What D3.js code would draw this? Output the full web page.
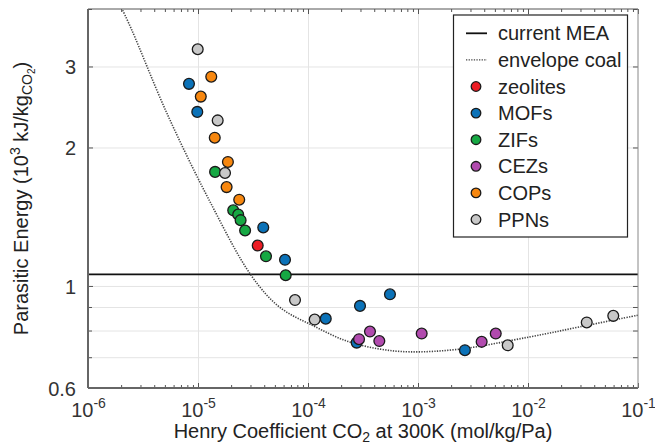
<!DOCTYPE html>
<html>
<head>
<meta charset="utf-8">
<script src="https://cdn.jsdelivr.net/npm/d3@7"></script>
<style>
  html, body { margin: 0; padding: 0; background: #fff; }
  svg { display: block; font-family: "Liberation Sans", Arial, Helvetica, sans-serif; }
</style>
</head>
<body>
<svg id="chart" width="655" height="447"></svg>
<script>
// ---------------- data ----------------
const categories = ["zeolites", "MOFs", "ZIFs", "CEZs", "COPs", "PPNs"];

const zeolitesH = [3.49e-5];
const zeolitesE = [1.224];

const mofsH = [8.28e-6, 9.85e-6, 3.92e-5, 6.18e-5, 1.45e-4, 2.97e-4, 5.56e-4, 2.77e-4, 2.67e-3];
const mofsE = [2.75, 2.39, 1.34, 1.14, 0.849, 0.905, 0.959, 0.753, 0.725];

const zifsH = [1.43e-5, 2.09e-5, 2.32e-5, 2.44e-5, 2.68e-5, 4.15e-5, 6.27e-5];
const zifsE = [1.77, 1.46, 1.43, 1.39, 1.32, 1.16, 1.055];

const cezsH = [2.91e-4, 3.66e-4, 4.45e-4, 1.08e-3, 3.79e-3, 5.09e-3];
const cezsE = [0.766, 0.796, 0.759, 0.788, 0.756, 0.788];

const copsH = [1.32e-5, 1.06e-5, 1.42e-5, 1.87e-5, 1.82e-5, 2.37e-5];
const copsE = [2.85, 2.58, 2.10, 1.86, 1.64, 1.54];

const ppnsH = [9.94e-6, 1.51e-5, 1.76e-5, 7.62e-5, 1.15e-4, 6.54e-3, 3.42e-2, 5.96e-2];
const ppnsE = [3.27, 2.29, 1.76, 0.932, 0.845, 0.743, 0.833, 0.861];

const envelopeH = [2.02e-6, 2.49e-6, 5.19e-6, 1.24e-5, 3.08e-5, 5.56e-5, 1.12e-4, 2.25e-4, 4.52e-4, 8.46e-4, 2.41e-3, 1.04e-2, 2.97e-2, 1.0e-1];
const envelopeE = [4.02, 3.61, 2.38, 1.55, 1.05, 0.898, 0.819, 0.759, 0.729, 0.719, 0.729, 0.775, 0.815, 0.864];

const meaEnergy = 1.06;

const xTickValues = [1e-6, 1e-5, 1e-4, 1e-3, 1e-2, 1e-1];
const xTickExponents = ["-6", "-5", "-4", "-3", "-2", "-1"];
const yTickValues = [0.6, 1, 2, 3];
const yTickLabels = ["0.6", "1", "2", "3"];
const yGridValues = [0.7, 0.8, 0.9, 1, 2, 3];
const yMinorValues = [0.7, 0.8, 0.9, 4];

(function () {
// ---------------- styles ----------------
const seriesColors = {
  zeolites: "#ec1c24",
  MOFs: "#0b72b8",
  ZIFs: "#16a843",
  CEZs: "#b14aae",
  COPs: "#f7870f",
  PPNs: "#c8c8c8"
};
const seriesData = {
  zeolites: [zeolitesH, zeolitesE],
  MOFs: [mofsH, mofsE],
  ZIFs: [zifsH, zifsE],
  CEZs: [cezsH, cezsE],
  COPs: [copsH, copsE],
  PPNs: [ppnsH, ppnsE]
};

const pL = 88, pR = 638, pT = 9, pB = 388;
const svg = d3.select("#chart");

const x = d3.scaleLog().domain([1e-6, 1e-1]).range([pL, pR]);
const y = d3.scaleLog().domain([0.6, 4]).range([pB, pT]);

const xMinor = [];
for (let e = -6; e < -1; e++) for (let m = 2; m <= 9; m++) xMinor.push(m * Math.pow(10, e));

// ---------- grid ----------
const grid = svg.append("g").attr("class", "grid");
grid.append("g")
  .attr("transform", `translate(0,${pB})`)
  .call(d3.axisBottom(x).tickValues(xTickValues.slice(1, -1)).tickSize(-(pB - pT)).tickFormat(""))
  .call(g => g.select(".domain").remove())
  .call(g => g.selectAll("line").attr("stroke", "#e4e4e4").attr("stroke-width", 1));
grid.append("g")
  .attr("transform", `translate(${pL},0)`)
  .call(d3.axisLeft(y).tickValues(yGridValues).tickSize(-(pR - pL)).tickFormat(""))
  .call(g => g.select(".domain").remove())
  .call(g => g.selectAll("line").attr("stroke", "#e4e4e4").attr("stroke-width", 1));

// ---------- MEA line ----------
svg.append("line")
  .attr("x1", x(1e-6)).attr("x2", x(1e-1))
  .attr("y1", y(meaEnergy)).attr("y2", y(meaEnergy))
  .attr("stroke", "#111").attr("stroke-width", 1.8);

// ---------- envelope ----------
svg.append("clipPath").attr("id", "clip")
  .append("rect").attr("x", pL).attr("y", pT).attr("width", pR - pL).attr("height", pB - pT);
const envPts = envelopeH.map((h, i) => [h, envelopeE[i]]);
svg.append("path")
  .datum(envPts)
  .attr("clip-path", "url(#clip)")
  .attr("fill", "none")
  .attr("stroke", "#444")
  .attr("stroke-width", 1.6)
  .attr("stroke-dasharray", "1.3,1.3")
  .attr("d", d3.line().x(d => x(d[0])).y(d => y(d[1])).curve(d3.curveCatmullRom.alpha(0.5)));

// ---------- points ----------
categories.forEach(cat => {
  const [hs, es] = seriesData[cat];
  svg.append("g").selectAll("circle")
    .data(hs.map((h, i) => [h, es[i]]))
    .join("circle")
    .attr("cx", d => x(d[0]))
    .attr("cy", d => y(d[1]))
    .attr("r", 5.4)
    .attr("fill", seriesColors[cat])
    .attr("stroke", "#1a1a1a")
    .attr("stroke-width", 1.3);
});

// ---------- axes ----------
const axisColor = "#555";
function styleAxis(g) {
  g.select(".domain").remove();
  g.selectAll("line").attr("stroke", axisColor).attr("stroke-width", 1);
}
const xb = svg.append("g").attr("transform", `translate(0,${pB})`)
  .call(d3.axisBottom(x).tickValues(xTickValues).tickSize(-5).tickFormat(() => "10"))
  .call(styleAxis);
xb.selectAll("text")
  .attr("font-size", 20).attr("fill", "#333").attr("y", 29).attr("dy", null)
  .attr("text-anchor", "middle")
  .each(function (d, i) {
    const t = d3.select(this);
    t.text(null);
    t.append("tspan").text("10");
    t.append("tspan").attr("font-size", 14).attr("dy", -9).text(xTickExponents[i]);
  });
svg.append("g").attr("transform", `translate(0,${pB})`)
  .call(d3.axisBottom(x).tickValues(xMinor).tickSize(-3).tickFormat(""))
  .call(styleAxis);
svg.append("g").attr("transform", `translate(0,${pT})`)
  .call(d3.axisTop(x).tickValues(xTickValues).tickSize(-5).tickFormat(""))
  .call(styleAxis);
svg.append("g").attr("transform", `translate(0,${pT})`)
  .call(d3.axisTop(x).tickValues(xMinor).tickSize(-3).tickFormat(""))
  .call(styleAxis);
const yl = svg.append("g").attr("transform", `translate(${pL},0)`)
  .call(d3.axisLeft(y).tickValues(yTickValues).tickSize(-5).tickFormat((d, i) => yTickLabels[i]))
  .call(styleAxis);
yl.selectAll("text").attr("font-size", 20).attr("fill", "#333").attr("x", -12).attr("dy", "0.36em");
svg.append("g").attr("transform", `translate(${pL},0)`)
  .call(d3.axisLeft(y).tickValues(yMinorValues).tickSize(-4).tickFormat(""))
  .call(styleAxis);
svg.append("g").attr("transform", `translate(${pR},0)`)
  .call(d3.axisRight(y).tickValues(yTickValues.concat(yMinorValues)).tickSize(-5).tickFormat(""))
  .call(styleAxis);

// frame
svg.append("line").attr("x1", pL).attr("x2", pL).attr("y1", pT).attr("y2", pB).attr("stroke", "#666").attr("stroke-width", 2);
svg.append("line").attr("x1", pL).attr("x2", pR).attr("y1", pB).attr("y2", pB).attr("stroke", "#666").attr("stroke-width", 2);
svg.append("line").attr("x1", pL).attr("x2", pR).attr("y1", pT).attr("y2", pT).attr("stroke", "#555").attr("stroke-width", 1);
svg.append("line").attr("x1", pR).attr("x2", pR).attr("y1", pT).attr("y2", pB).attr("stroke", "#888").attr("stroke-width", 1);

// ---------- axis titles ----------
const xt = svg.append("text")
  .attr("x", (pL + pR) / 2).attr("y", 438)
  .attr("text-anchor", "middle").attr("font-size", 20).attr("fill", "#222");
xt.append("tspan").text("Henry Coefficient CO");
xt.append("tspan").attr("font-size", 14).attr("dy", 4).text("2");
xt.append("tspan").attr("dy", -4).text(" at 300K (mol/kg/Pa)");

const yt = svg.append("text")
  .attr("transform", `translate(28,${(pT + pB) / 2}) rotate(-90)`)
  .attr("text-anchor", "middle").attr("font-size", 20).attr("fill", "#222");
yt.append("tspan").text("Parasitic Energy (10");
yt.append("tspan").attr("font-size", 14).attr("dy", -8).text("3");
yt.append("tspan").attr("dy", 8).text(" kJ/kg");
yt.append("tspan").attr("font-size", 14).attr("dy", 4).text("CO");
yt.append("tspan").attr("font-size", 10).attr("dy", 3).text("2");
yt.append("tspan").attr("dy", -7).text(")");

// ---------- legend ----------
const lg = svg.append("g");
lg.append("rect").attr("x", 453.5).attr("y", 15).attr("width", 174).attr("height", 222)
  .attr("fill", "#fff").attr("stroke", "#222").attr("stroke-width", 1.2);
const legendItems = ["current MEA", "envelope coal"].concat(categories);
const ly0 = 33.3, lstep = 26.6;
legendItems.forEach((name, i) => {
  const cy = ly0 + i * lstep;
  if (i === 0) {
    lg.append("line").attr("x1", 466).attr("x2", 487).attr("y1", cy).attr("y2", cy)
      .attr("stroke", "#111").attr("stroke-width", 1.8);
  } else if (i === 1) {
    lg.append("line").attr("x1", 466).attr("x2", 487).attr("y1", cy).attr("y2", cy)
      .attr("stroke", "#444").attr("stroke-width", 1.4).attr("stroke-dasharray", "1.3,1.3");
  } else {
    lg.append("circle").attr("cx", 476).attr("cy", cy).attr("r", 4.8)
      .attr("fill", seriesColors[name]).attr("stroke", "#1a1a1a").attr("stroke-width", 1.3);
  }
  lg.append("text").attr("x", 498).attr("y", cy).attr("dy", "0.35em")
    .attr("font-size", 20).attr("fill", "#222").text(name);
});
})();
</script>
</body>
</html>
